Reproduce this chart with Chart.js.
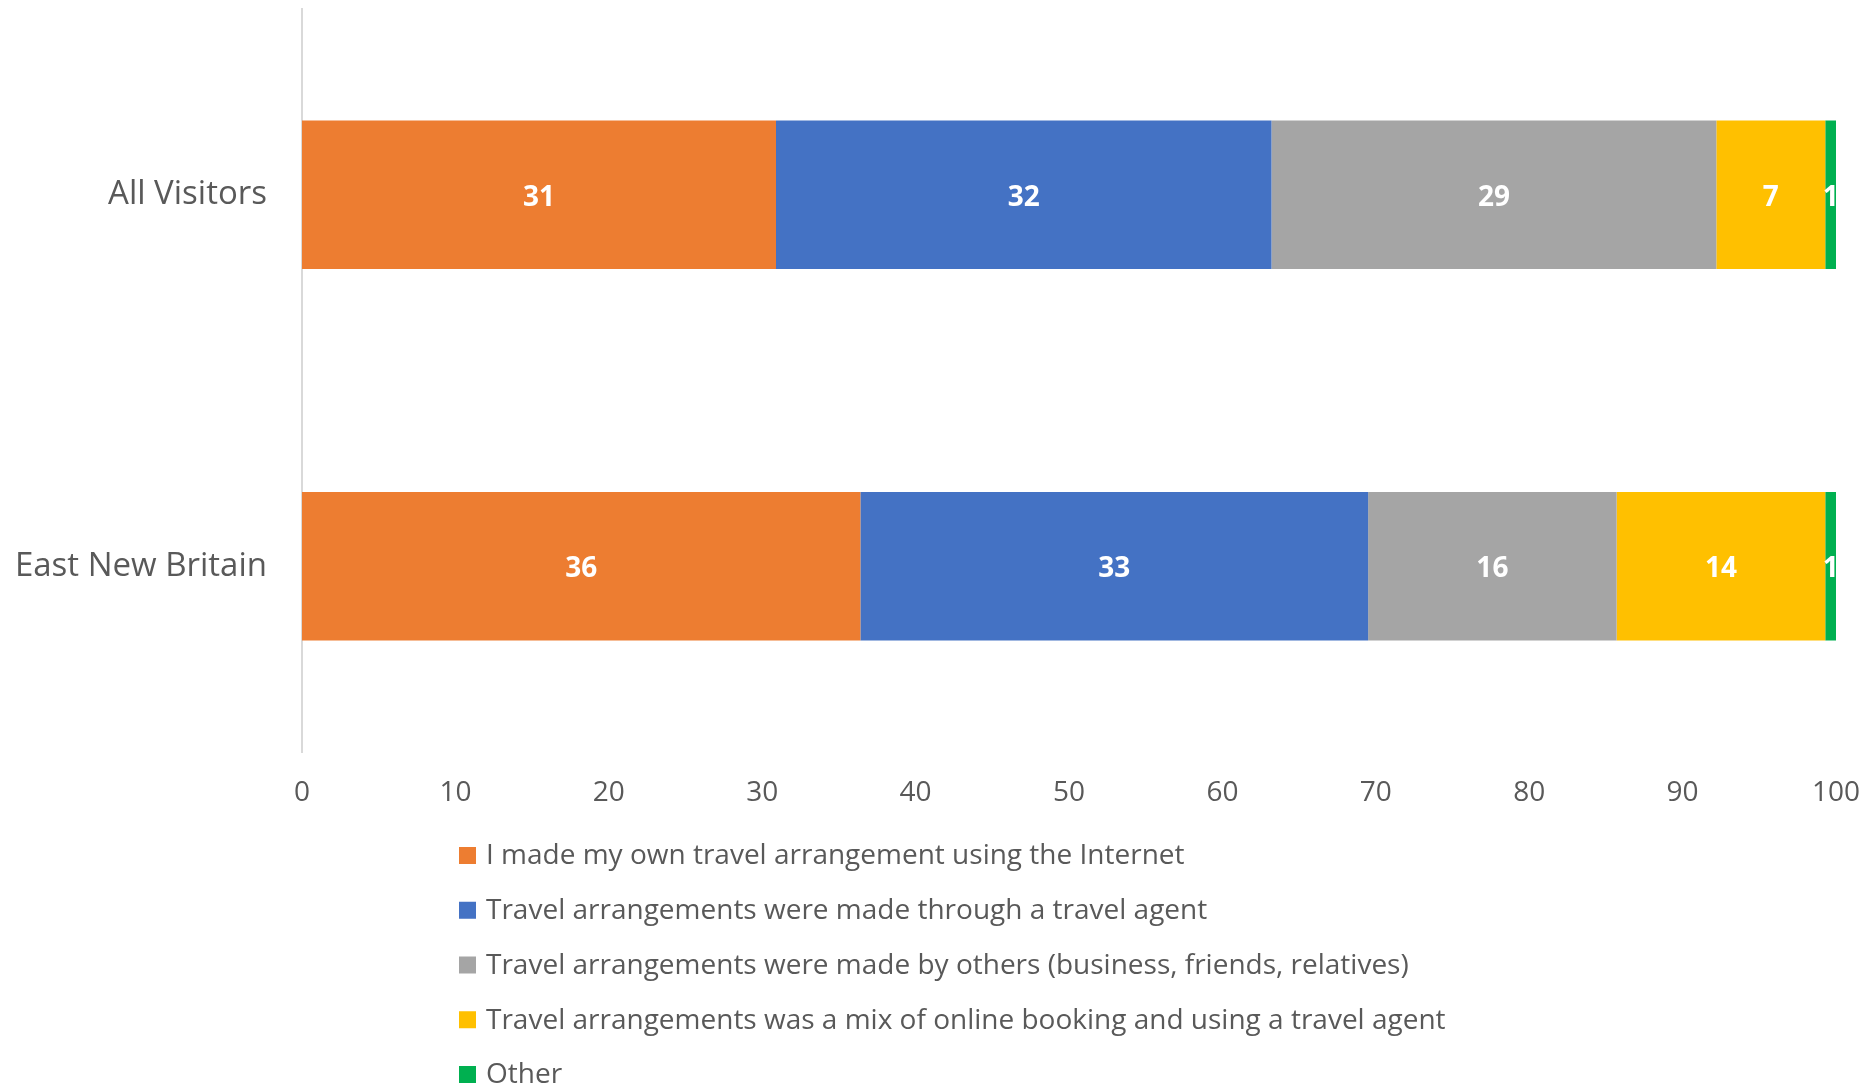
<!DOCTYPE html>
<html>
<head>
<meta charset="utf-8">
<script src="https://cdn.jsdelivr.net/npm/chart.js@4/dist/chart.umd.min.js"></script>
<style>
  html, body { margin: 0; padding: 0; background: #ffffff; }
  canvas { display: block; }
</style>
</head>
<body>
<canvas id="chart" width="1873" height="1087"></canvas>
<script>
// Regions shown as horizontal bars
const categories = ['All Visitors', 'East New Britain'];

// Share of visitors (%) by how travel was arranged
const seriesNames = [
  'I made my own travel arrangement using the Internet',
  'Travel arrangements were made through a travel agent',
  'Travel arrangements were made by others (business, friends, relatives)',
  'Travel arrangements was a mix of online booking and using a travel agent',
  'Other'
];
const ownInternet   = [30.9, 36.4];
const travelAgent   = [32.3, 33.1];
const byOthers      = [29.0, 16.2];
const mixedBooking  = [7.1, 13.6];
const other         = [0.7, 0.7];

const xTicks = [0, 10, 20, 30, 40, 50, 60, 70, 80, 90, 100];

const seriesValues = [ownInternet, travelAgent, byOthers, mixedBooking, other];
const seriesColors = ['#ED7D31', '#4472C4', '#A5A5A5', '#FFC000', '#00B050'];

const FONT = "'Open Sans', 'Noto Sans', sans-serif";
const TEXT = '#595959';

// White value labels centred on each bar segment
const valueLabels = {
  id: 'valueLabels',
  afterDatasetsDraw(chart) {
    const ctx = chart.ctx;
    ctx.save();
    ctx.fillStyle = '#ffffff';
    ctx.font = `bold 28px ${FONT}`;
    ctx.textAlign = 'center';
    ctx.textBaseline = 'middle';
    chart.data.datasets.forEach((ds, di) => {
      chart.getDatasetMeta(di).data.forEach((bar, i) => {
        const p = bar.getProps(['x', 'y', 'base'], true);
        ctx.fillText(String(Math.round(ds.data[i])), (p.x + p.base) / 2, p.y + 3);
      });
    });
    ctx.restore();
  }
};

// One legend entry per row, stacked below the axis
const stackedLegend = {
  id: 'stackedLegend',
  afterDraw(chart) {
    const ctx = chart.ctx;
    const left = 459, top = 855.5, step = 54.75, box = 17;
    ctx.save();
    ctx.font = `28px ${FONT}`;
    ctx.textAlign = 'left';
    ctx.textBaseline = 'middle';
    chart.data.datasets.forEach((ds, i) => {
      const y = top + i * step;
      ctx.fillStyle = ds.backgroundColor;
      ctx.fillRect(left, y - box / 2, box, box);
      ctx.fillStyle = TEXT;
      ctx.fillText(ds.label, left + 27, y + 1);
    });
    ctx.restore();
  }
};

new Chart(document.getElementById('chart'), {
  type: 'bar',
  data: {
    labels: categories,
    datasets: seriesNames.map((name, i) => ({
      label: name,
      data: seriesValues[i],
      backgroundColor: seriesColors[i],
      borderWidth: 0,
      categoryPercentage: 1,
      barPercentage: 0.4
    }))
  },
  options: {
    indexAxis: 'y',
    responsive: false,
    animation: false,
    devicePixelRatio: 1,
    layout: { padding: { left: 0, right: 37, top: 9, bottom: 255 } },
    plugins: {
      legend: { display: false },
      tooltip: { enabled: false }
    },
    scales: {
      x: {
        stacked: true,
        min: 0,
        max: 100,
        afterBuildTicks(scale) { scale.ticks = xTicks.map(v => ({ value: v })); },
        afterFit(scale) {
          scale.height = 80;
          scale.paddingLeft = 0;
          scale.paddingRight = 0;
        },
        grid: { display: false },
        border: { display: false },
        ticks: { color: TEXT, font: { family: FONT, size: 28 }, padding: 16, maxRotation: 0 }
      },
      y: {
        stacked: true,
        afterFit(scale) {
          scale.width = 302;
          scale.paddingTop = 0;
          scale.paddingBottom = 0;
        },
        grid: { drawOnChartArea: false, drawTicks: false },
        border: { display: true, color: '#D9D9D9', width: 2 },
        ticks: { color: TEXT, font: { family: FONT, size: 33 }, padding: 35 }
      }
    }
  },
  plugins: [valueLabels, stackedLegend]
});
</script>
</body>
</html>
